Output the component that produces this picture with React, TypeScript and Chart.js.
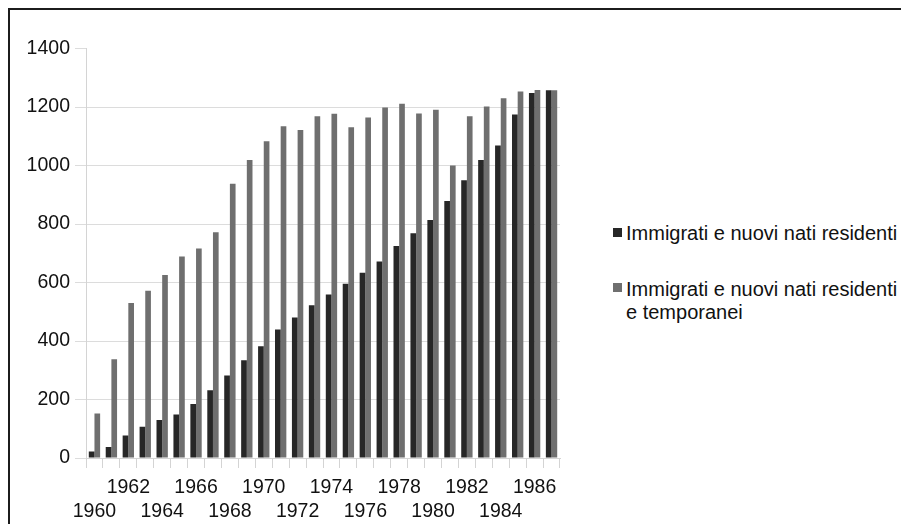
import React, { useEffect, useRef } from 'react';
import { Chart, registerables } from 'chart.js';

Chart.register(...registerables);

const years = [
  '1960', '1961', '1962', '1963', '1964', '1965', '1966', '1967', '1968', '1969',
  '1970', '1971', '1972', '1973', '1974', '1975', '1976', '1977', '1978', '1979',
  '1980', '1981', '1982', '1983', '1984', '1985', '1986', '1987',
];

const residenti = [
  22, 38, 77, 107, 130, 149, 185, 232, 282, 334,
  382, 439, 480, 522, 559, 596, 633, 672, 725, 768,
  814, 879, 950, 1019, 1068, 1174, 1248, 1257,
];

const residentiTemporanei = [
  152, 338, 530, 572, 626, 689, 716, 772, 938, 1019,
  1083, 1134, 1121, 1168, 1177, 1131, 1164, 1198, 1211, 1178,
  1191, 1000, 1168, 1202, 1230, 1253, 1258, 1257,
];

const yTicks = [0, 200, 400, 600, 800, 1000, 1200, 1400];

const seriesLabels = [
  'Immigrati e nuovi nati residenti',
  'Immigrati e nuovi nati residenti e temporanei',
];
const legendLines = [
  ['Immigrati e nuovi nati residenti'],
  ['Immigrati e nuovi nati residenti', 'e temporanei'],
];
const seriesColors = ['#272727', '#6f6f6f'];

const FONT = "'Liberation Sans', Arial, Helvetica, sans-serif";

export default function App() {
  const canvasRef = useRef<HTMLCanvasElement | null>(null);

  useEffect(() => {
    document.documentElement.style.overflow = 'hidden';
    const canvas = canvasRef.current;
    if (!canvas) return;
    const chart = new Chart(canvas, {
      type: 'bar',
      data: {
        labels: years,
        datasets: [
          {
            label: seriesLabels[0],
            data: residenti,
            backgroundColor: seriesColors[0],
            borderWidth: 0,
            categoryPercentage: 0.67,
            barPercentage: 1.0,
          },
          {
            label: seriesLabels[1],
            data: residentiTemporanei,
            backgroundColor: seriesColors[1],
            borderWidth: 0,
            categoryPercentage: 0.67,
            barPercentage: 1.0,
          },
        ],
      },
      options: {
        responsive: false,
        animation: false,
        devicePixelRatio: 1,
        layout: { padding: { top: 38.5, right: 20, left: 0, bottom: 0 } },
        plugins: {
          legend: { display: false },
          tooltip: { enabled: false },
          title: { display: false },
        },
        scales: {
          x: {
            offset: true,
            grid: {
              offset: true,
              drawOnChartArea: true,
              color: (ctx: any) => (ctx.index === years.length ? '#d4d4d4' : 'rgba(0,0,0,0)'),
              tickColor: '#d4d4d4',
              tickLength: 10,
              lineWidth: 1,
            },
            border: { display: true, color: '#d4d4d4' },
            ticks: {
              autoSkip: false,
              maxRotation: 0,
              minRotation: 0,
              padding: 8,
              color: '#111',
              font: { family: FONT, size: 19.5, lineHeight: '24px' },
              callback: (_v: any, i: number) => {
                const y = years[i];
                if (i % 4 === 0) return ['', y];
                if (i % 4 === 2) return [y, ''];
                return '';
              },
            },
            afterFit: (scale: any) => {
              scale.height = 66;
            },
          },
          y: {
            min: 0,
            max: 1400,
            afterBuildTicks: (scale: any) => {
              scale.ticks = yTicks.map((v) => ({ value: v }));
            },
            grid: {
              color: (ctx: any) => (ctx.tick && ctx.tick.value === 1400 ? 'rgba(0,0,0,0)' : '#dcdcdc'),
              tickColor: '#dcdcdc',
              tickLength: 11,
              lineWidth: 1,
            },
            border: { display: true, color: '#d4d4d4' },
            ticks: {
              padding: 5,
              color: '#111',
              font: { family: FONT, size: 19.5 },
              callback: (v: any) => String(v),
            },
            afterFit: (scale: any) => {
              scale.width = 76;
            },
          },
        },
      },
    });
    return () => chart.destroy();
  }, []);

  const legendTops = [212, 267.5];
  const boxTops = [218, 273];

  return (
    <div
      style={{
        position: 'relative',
        width: 901,
        height: 516,
        boxSizing: 'border-box',
        borderTop: '2px solid #1c1c1c',
        borderLeft: '2px solid #1c1c1c',
        background: '#fff',
      }}
    >
      <canvas
        ref={canvasRef}
        width={570}
        height={514}
        style={{ position: 'absolute', left: 0, top: 0, width: 570, height: 514 }}
      />
      {legendLines.map((lines, i) => (
        <React.Fragment key={i}>
          <div
            style={{
              position: 'absolute',
              left: 603,
              top: boxTops[i],
              width: 9,
              height: 9,
              background: seriesColors[i],
            }}
          />
          <div
            style={{
              position: 'absolute',
              left: 616,
              top: legendTops[i],
              fontFamily: FONT,
              fontSize: 20,
              lineHeight: '23px',
              color: '#111',
              whiteSpace: 'nowrap',
            }}
          >
            {lines.map((l, j) => (
              <div key={j}>{l}</div>
            ))}
          </div>
        </React.Fragment>
      ))}
    </div>
  );
}
